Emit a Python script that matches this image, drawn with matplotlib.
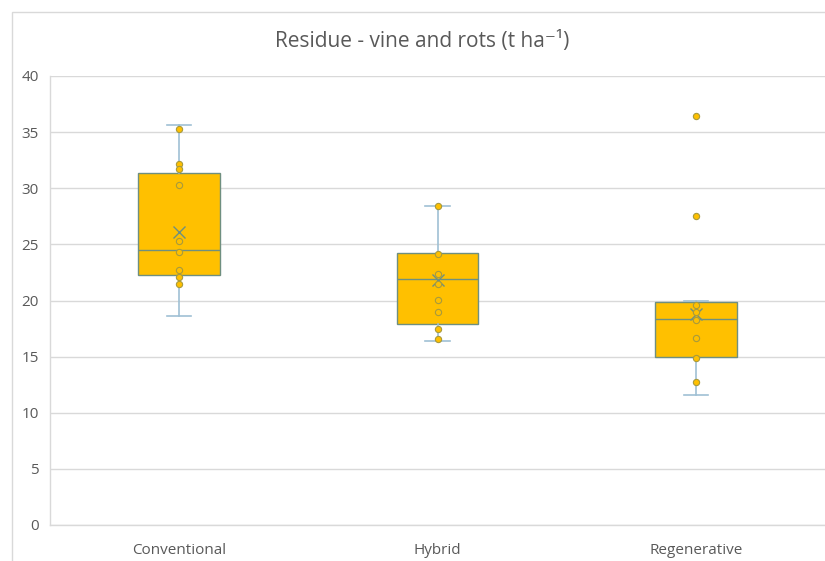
import matplotlib
matplotlib.use('Agg')
import matplotlib.pyplot as plt
from matplotlib.patches import Rectangle

plt.rcParams['font.family'] = ['Open Sans', 'DejaVu Sans']

# data
categories = ['Conventional', 'Hybrid', 'Regenerative']
whisker_low = [18.65, 16.4, 11.6]
q1 = [22.27, 17.88, 14.95]
medians = [24.47, 21.95, 18.32]
q3 = [31.4, 24.23, 19.85]
whisker_high = [35.66, 28.45, 20.0]
means = [26.13, 21.8, 18.8]
outliers = [[], [], [36.4, 27.5]]
inner_points = [
    [35.3, 32.2, 31.7, 30.3, 25.3, 24.3, 22.7, 22.1, 21.5],
    [28.4, 24.15, 22.4, 21.45, 20.05, 18.95, 17.5, 16.6],
    [19.6, 18.95, 18.25, 16.63, 14.85, 12.77],
]
yticks = [0, 5, 10, 15, 20, 25, 30, 35, 40]

box_fill = '#ffc000'
box_edge = '#6f8f80'
whisker_col = '#9fc0d4'
dot_edge = '#a89a3c'
text_col = '#595959'
grid_col = '#d9d9d9'

fig = plt.figure(figsize=(8.25, 5.61), dpi=100)
ax = fig.add_axes([50 / 825, 1 - 525 / 561, 775 / 825, 449 / 561])

stats = []
for i in range(len(categories)):
    stats.append({'label': categories[i], 'whislo': whisker_low[i], 'q1': q1[i],
                  'med': medians[i], 'q3': q3[i], 'whishi': whisker_high[i],
                  'mean': means[i], 'fliers': outliers[i]})

pos = list(range(len(categories)))
ax.bxp(stats, positions=pos, widths=0.315, capwidths=0.095, patch_artist=True,
       showmeans=True, showfliers=True,
       boxprops=dict(facecolor=box_fill, edgecolor=box_edge, linewidth=1.0),
       medianprops=dict(color=box_edge, linewidth=1.0),
       whiskerprops=dict(color=whisker_col, linewidth=1.2),
       capprops=dict(color=whisker_col, linewidth=1.2),
       meanprops=dict(marker='x', markersize=8, markeredgecolor=box_edge,
                      markeredgewidth=1.0),
       flierprops=dict(marker='o', markersize=4.5, markerfacecolor=box_fill,
                       markeredgecolor=dot_edge, markeredgewidth=0.8))

for i, pts in enumerate(inner_points):
    ax.plot([pos[i]] * len(pts), pts, 'o', markersize=4.5, markerfacecolor=box_fill,
            markeredgecolor=dot_edge, markeredgewidth=0.8, zorder=4)

ax.set_xlim(-0.5, 2.5)
ax.set_ylim(0, 40)
ax.set_yticks(yticks)
ax.set_xticks(pos)
ax.set_xticklabels(categories)
ax.tick_params(length=0, colors=text_col, labelsize=11)
ax.tick_params(axis='x', pad=13)
ax.tick_params(axis='y', pad=8)
ax.yaxis.grid(True, color=grid_col, linewidth=1.0)
ax.set_axisbelow(True)
for s in ['top', 'right']:
    ax.spines[s].set_visible(False)
for s in ['left', 'bottom']:
    ax.spines[s].set_color(grid_col)
    ax.spines[s].set_linewidth(1.0)

fig.text(422 / 825, 1 - 42 / 561, 'Residue - vine and rots (t ha\u207b\u00b9)',
         ha='center', va='center', fontsize=15, color=text_col)

# chart area border (cropped on the right and bottom)
fig.patches.append(Rectangle((12 / 825, -0.05), 1.0, 1 - 12 / 561 + 0.05,
                             transform=fig.transFigure, fill=False,
                             edgecolor=grid_col, linewidth=1.0))

fig.savefig('out.png', dpi=100)
